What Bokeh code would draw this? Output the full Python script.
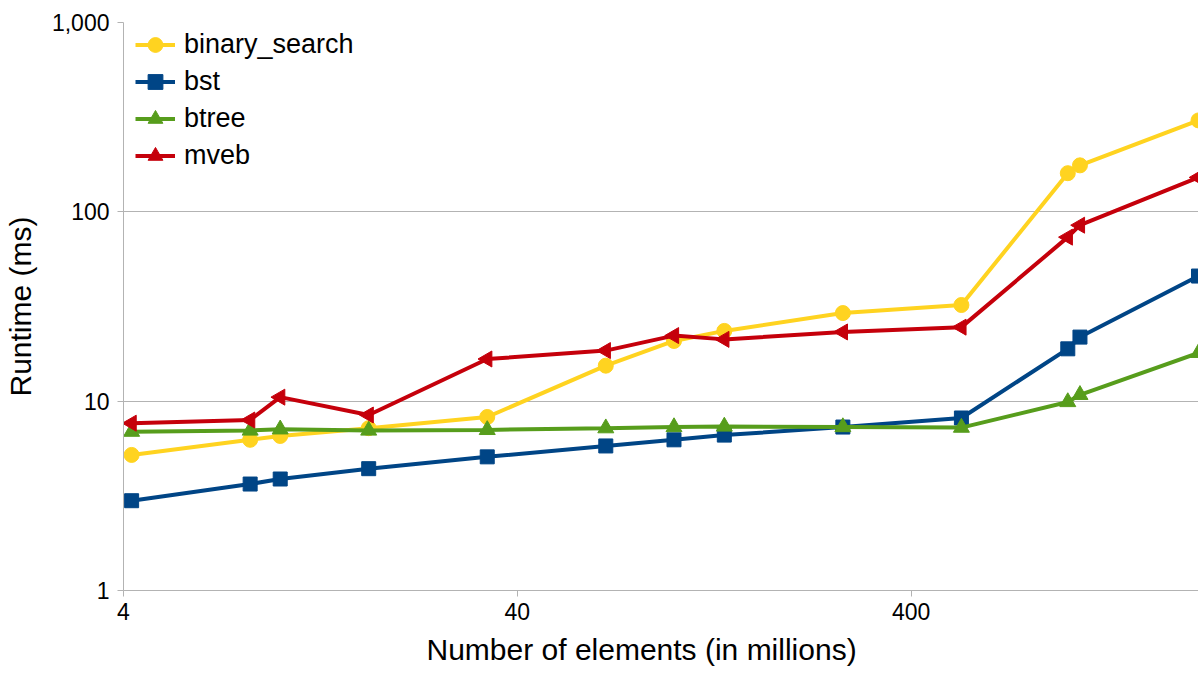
from math import pi

from bokeh.plotting import figure
from bokeh.models import FixedTicker, NumeralTickFormatter, Range1d, Title
from bokeh.embed import file_html
from bokeh.resources import INLINE

# Number of elements (millions): powers of two plus round decades
sizes = [4.194304, 8.388608, 10, 16.777216, 33.554432, 67.108864, 100,
         134.217728, 268.435456, 536.870912, 1000, 1073.741824, 2147.483648]

# Runtime in milliseconds for each structure
binary_search = [5.2, 6.25, 6.55, 7.2, 8.25, 15.4, 20.8, 23.5, 29.2, 32.2, 160, 176, 304]
bst = [2.98, 3.65, 3.88, 4.4, 5.08, 5.8, 6.25, 6.62, 7.3, 8.15, 18.9, 21.8, 45.8]
btree = [6.9, 7.0, 7.1, 7.0, 7.05, 7.2, 7.3, 7.35, 7.3, 7.25, 9.9, 10.8, 18.0]
mveb = [7.65, 7.95, 10.5, 8.45, 16.7, 18.5, 22.2, 21.2, 23.2, 24.6, 73.5, 85.0, 152]

x_ticks = [4, 40, 400]
y_ticks = [1, 10, 100, 1000]

FONT = "Liberation Sans"
GRID = "#b3b3b3"

p = figure(
    width=1198, height=674,
    x_axis_type="log", y_axis_type="log",
    x_range=Range1d(4, 2147.483648), y_range=Range1d(1, 1000),
    output_backend="svg", toolbar_location=None,
    min_border_left=123, min_border_right=0,
    min_border_top=22, min_border_bottom=83,
)
p.outline_line_color = None
p.background_fill_color = "white"
p.border_fill_color = "white"

series = [
    ("binary_search", binary_search, "#FFD320", "circle", 15, 0.0),
    ("bst", bst, "#004586", "square", 14, 0.0),
    ("btree", btree, "#579D1C", "triangle", 16, 0.0),
    ("mveb", mveb, "#C5000B", "triangle", 16, pi / 2),
]
for name, ys, color, marker, size, angle in series:
    p.line(sizes, ys, line_color=color, line_width=4, legend_label=name)
    p.scatter(sizes, ys, marker=marker, size=size, angle=angle,
              fill_color=color, line_color=color, legend_label=name)

# axes
p.xaxis.ticker = FixedTicker(ticks=x_ticks, minor_ticks=[])
p.yaxis.ticker = FixedTicker(ticks=y_ticks, minor_ticks=[])
p.xaxis.formatter = NumeralTickFormatter(format="0,0")
p.yaxis.formatter = NumeralTickFormatter(format="0,0")
p.yaxis.axis_label = "Runtime (ms)"
for ax in (p.xaxis, p.yaxis):
    ax.axis_line_color = GRID
    ax.major_tick_line_color = GRID
    ax.minor_tick_line_color = None
    ax.major_tick_in = 0
    ax.major_tick_out = 6
    ax.major_label_text_font = FONT
    ax.major_label_text_font_size = "23px"
    ax.major_label_text_color = "black"
    ax.axis_label_text_font = FONT
    ax.axis_label_text_font_size = "30px"
    ax.axis_label_text_font_style = "normal"
    ax.axis_label_text_color = "black"
p.xaxis.major_label_standoff = 6
p.yaxis.major_label_standoff = 8
p.yaxis.axis_label_standoff = 12

# x-axis title as a bottom title, placed from the frame's left edge
p.add_layout(Title(
    text="Number of elements (in millions)", align="left", offset=303,
    text_font=FONT, text_font_size="30px", text_font_style="normal",
    text_color="black", standoff=17,
), "below")

p.xgrid.visible = False
p.ygrid.grid_line_color = GRID
p.ygrid.grid_line_width = 1

# legend
lg = p.legend[0]
lg.location = (12, 416)
lg.margin = 0
lg.padding = 0
lg.spacing = 0
lg.glyph_width = 40
lg.glyph_height = 37
lg.label_height = 37
lg.label_standoff = 9
lg.label_text_font = FONT
lg.label_text_font_size = "27px"
lg.label_text_color = "black"
lg.background_fill_alpha = 0
lg.border_line_color = None

open("out.html", "w").write(file_html(p, INLINE))
